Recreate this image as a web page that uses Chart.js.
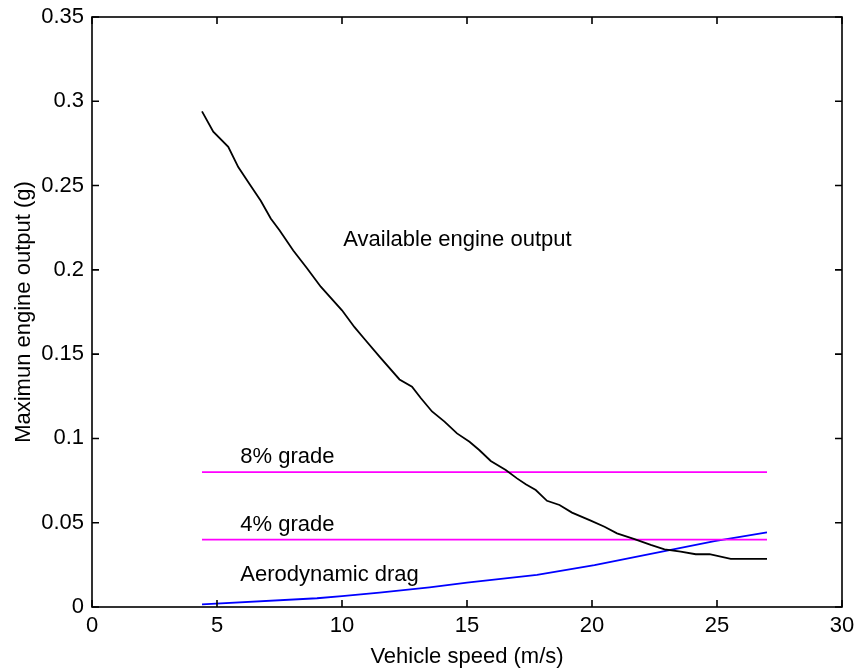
<!DOCTYPE html>
<html>
<head>
<meta charset="utf-8">
<title>Maximum engine output</title>
<script src="https://cdn.jsdelivr.net/npm/chart.js@4/dist/chart.umd.min.js"></script>
<style>
  html, body { margin: 0; padding: 0; background: #fff; }
  #wrap { width: 854px; height: 671px; }
</style>
</head>
<body>
<div id="wrap"><canvas id="chart" width="854" height="671"></canvas></div>
<script>
// Values.
const engineSpeed = [4.4, 4.85, 5.45, 5.85, 6.3, 6.75, 7.15, 7.5, 8.05, 8.6, 9.15, 10.0, 10.5, 10.9, 11.5, 12.3, 12.8, 13.15, 13.6, 14.1, 14.6, 15.1, 15.5, 15.95, 16.55, 17.0, 17.35, 17.75, 18.2, 18.7, 19.2, 19.95, 20.5, 21.0, 21.7, 22.35, 22.9, 23.55, 24.15, 24.7, 25.55, 27.0];
const engineOutput = [0.294, 0.282, 0.273, 0.261, 0.251, 0.241, 0.2305, 0.2235, 0.2115, 0.201, 0.19, 0.176, 0.166, 0.159, 0.1485, 0.135, 0.1307, 0.124, 0.116, 0.11, 0.103, 0.098, 0.093, 0.0866, 0.0813, 0.0763, 0.0728, 0.0694, 0.063, 0.0605, 0.056, 0.0512, 0.0476, 0.0437, 0.0403, 0.0368, 0.0342, 0.0328, 0.0313, 0.0313, 0.0285, 0.0285];

const dragSpeed = [4.4, 9.0, 10.0, 11.5, 13.5, 15.0, 17.8, 20.1, 22.9, 24.9, 27.0];
const dragOutput = [0.0016, 0.0052, 0.0065, 0.0085, 0.0117, 0.0145, 0.019, 0.0249, 0.0332, 0.0391, 0.0443];

const gradeSpeed = [4.4, 27.0];
const grade8 = [0.08, 0.08];
const grade4 = [0.04, 0.04];

const xTicks = [0, 5, 10, 15, 20, 25, 30];
const yTicks = [0, 0.05, 0.1, 0.15, 0.2, 0.25, 0.3, 0.35];

const noteTexts = ['Available engine output', '8% grade', '4% grade', 'Aerodynamic drag'];
const noteX = [10.05, 5.93, 5.93, 5.93];
const noteY = [0.2142, 0.0856, 0.0453, 0.0156];

const FONT = 'Liberation Sans, Arial, Helvetica, sans-serif';
const toPoints = (xs, ys) => xs.map((x, i) => ({ x: x, y: ys[i] }));

// MATLAB style box with inward ticks on all four sides, plus the text notes.
const boxPlugin = {
    id: 'matlabBox',
    afterDraw(chart) {
        const ctx = chart.ctx;
        const area = chart.chartArea;
        const xs = chart.scales.x;
        const ys = chart.scales.y;
        const len = 7;
        ctx.save();
        ctx.strokeStyle = '#000';
        ctx.lineWidth = 1.6;
        ctx.strokeRect(area.left, area.top, area.right - area.left, area.bottom - area.top);
        ctx.beginPath();
        xTicks.forEach(v => {
            const px = xs.getPixelForValue(v);
            ctx.moveTo(px, area.bottom); ctx.lineTo(px, area.bottom - len);
            ctx.moveTo(px, area.top); ctx.lineTo(px, area.top + len);
        });
        yTicks.forEach(v => {
            const py = ys.getPixelForValue(v);
            ctx.moveTo(area.left, py); ctx.lineTo(area.left + len, py);
            ctx.moveTo(area.right, py); ctx.lineTo(area.right - len, py);
        });
        ctx.stroke();

        ctx.fillStyle = '#000';
        ctx.font = '22px ' + FONT;
        ctx.textAlign = 'left';
        ctx.textBaseline = 'alphabetic';
        noteTexts.forEach((t, i) => {
            ctx.fillText(t, xs.getPixelForValue(noteX[i]), ys.getPixelForValue(noteY[i]));
        });
        ctx.restore();
    }
};

const lineSet = (data, color) => ({
    data: data,
    borderColor: color,
    borderWidth: 1.8,
    pointRadius: 0,
    fill: false,
    tension: 0
});

new Chart(document.getElementById('chart').getContext('2d'), {
    type: 'line',
    data: {
        datasets: [
            lineSet(toPoints(engineSpeed, engineOutput), '#000000'),
            lineSet(toPoints(gradeSpeed, grade8), '#ff00ff'),
            lineSet(toPoints(gradeSpeed, grade4), '#ff00ff'),
            lineSet(toPoints(dragSpeed, dragOutput), '#0000ff')
        ]
    },
    options: {
        responsive: false,
        animation: false,
        layout: { padding: { left: 0, top: 17, right: 12, bottom: 0 } },
        plugins: { legend: { display: false }, tooltip: { enabled: false } },
        scales: {
            x: {
                type: 'linear',
                min: 0,
                max: 30,
                afterBuildTicks: s => { s.ticks = xTicks.map(v => ({ value: v })); },
                afterFit: s => { s.height = 64; s.paddingLeft = 0; s.paddingRight = 0; },
                grid: { display: false, drawTicks: false },
                border: { display: false },
                ticks: { color: '#000', padding: 6, maxRotation: 0, font: { family: FONT, size: 22 } },
                title: { display: true, text: 'Vehicle speed (m/s)', color: '#000', padding: { top: 0, bottom: 1 }, font: { family: FONT, size: 22 } }
            },
            y: {
                type: 'linear',
                min: 0,
                max: 0.35,
                afterBuildTicks: s => { s.ticks = yTicks.map(v => ({ value: v })); },
                afterFit: s => { s.width = 92; s.paddingTop = 0; s.paddingBottom = 0; },
                grid: { display: false, drawTicks: false },
                border: { display: false },
                ticks: {
                    color: '#000',
                    padding: 8,
                    font: { family: FONT, size: 22 },
                    callback: v => String(Number(v.toFixed(2)))
                },
                title: { display: true, text: 'Maximun engine output (g)', color: '#000', padding: { top: 11, bottom: 0 }, font: { family: FONT, size: 22 } }
            }
        }
    },
    plugins: [boxPlugin]
});
</script>
</body>
</html>
